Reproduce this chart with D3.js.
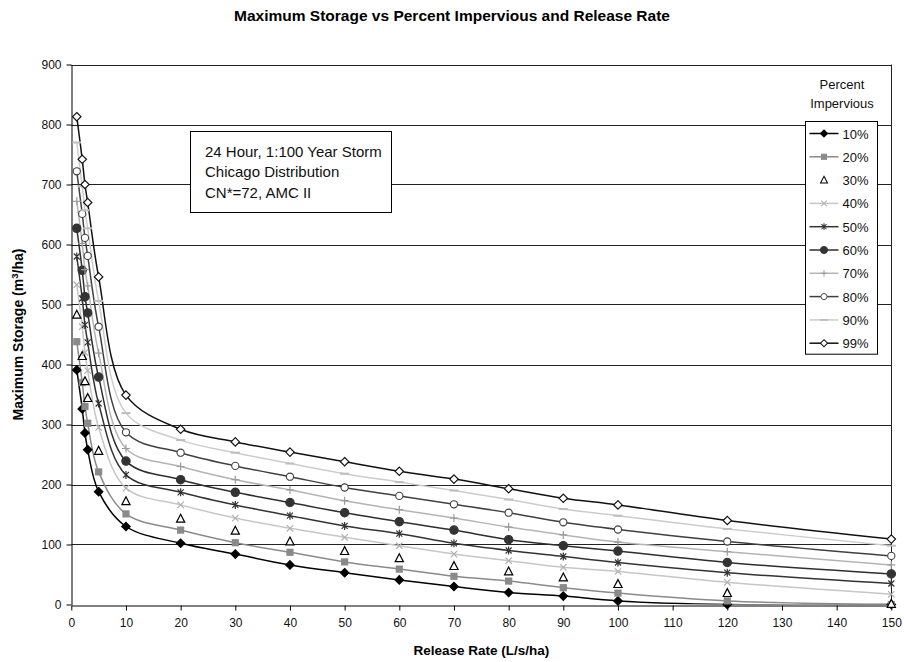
<!DOCTYPE html>
<html>
<head>
<meta charset="utf-8">
<script src="https://cdn.jsdelivr.net/npm/d3@7"></script>
<style>
  html, body { margin: 0; padding: 0; background: #fff; }
  svg { display: block; font-family: Arial, "Liberation Sans", sans-serif; }
</style>
</head>
<body>
<svg id="chart" width="904" height="662"></svg>
<script>
// Release rate (L/s/ha) at which each storage value was computed
const releaseRate = [1, 2, 2.5, 3, 5, 10, 20, 30, 40, 50, 60, 70, 80, 90, 100, 120, 150];

// Maximum storage (m3/ha) for each percent impervious
const imp10 = [391, 326, 286, 258, 188, 130, 102, 84, 66, 53, 41, 30, 20, 14, 6, 0, 0];
const imp20 = [438, 370, 330, 302, 221, 151, 124, 103, 87, 71, 59, 47, 39, 28, 19, 6, 0];
const imp30 = [483, 414, 372, 344, 256, 172, 143, 123, 105, 89, 77, 64, 55, 45, 34, 19, 1];
const imp40 = [533, 463, 420, 390, 295, 194, 166, 144, 127, 112, 98, 84, 73, 62, 55, 37, 17];
const imp50 = [580, 510, 466, 437, 335, 216, 187, 166, 148, 131, 118, 102, 90, 80, 70, 53, 35];
const imp60 = [627, 557, 513, 486, 379, 239, 208, 187, 170, 153, 138, 124, 108, 98, 89, 70, 51];
const imp70 = [672, 602, 558, 531, 419, 260, 230, 208, 191, 173, 158, 144, 129, 116, 104, 88, 66];
const imp80 = [722, 651, 611, 581, 463, 287, 253, 231, 213, 195, 181, 167, 153, 137, 125, 105, 81];
const imp90 = [770, 697, 657, 627, 506, 319, 274, 253, 235, 218, 204, 190, 175, 159, 148, 126, 98];
const imp99 = [813, 742, 700, 670, 546, 349, 292, 271, 254, 238, 222, 209, 193, 177, 166, 140, 109];

const seriesLabels = ["10%", "20%", "30%", "40%", "50%", "60%", "70%", "80%", "90%", "99%"];
const seriesValues = [imp10, imp20, imp30, imp40, imp50, imp60, imp70, imp80, imp90, imp99];

const xTickValues = [0, 10, 20, 30, 40, 50, 60, 70, 80, 90, 100, 110, 120, 130, 140, 150];
const yTickValues = [0, 100, 200, 300, 400, 500, 600, 700, 800, 900];

const noteLines = ["24 Hour, 1:100 Year Storm", "Chicago Distribution", "CN*=72, AMC II"];

// Drawing style per series: line colour (null = markers only) and marker look
const styles = [
  { line: "#000000", marker: "diamond",  fill: "#000000", stroke: "#000000" },
  { line: "#8a8a8a", marker: "square",   fill: "#8a8a8a", stroke: "none" },
  { line: null,      marker: "triangle", fill: "#ffffff", stroke: "#000000" },
  { line: "#c6c6c6", marker: "times",    fill: "none",    stroke: "#b0b0b0" },
  { line: "#333333", marker: "asterisk", fill: "none",    stroke: "#333333" },
  { line: "#2e2e2e", marker: "circle",   fill: "#333333", stroke: "#333333" },
  { line: "#b4b4b4", marker: "plus",     fill: "none",    stroke: "#9a9a9a" },
  { line: "#404040", marker: "ocircle",  fill: "#ffffff", stroke: "#404040" },
  { line: "#cccccc", marker: "dash",     fill: "none",    stroke: "#bdbdbd" },
  { line: "#111111", marker: "odiamond", fill: "#ffffff", stroke: "#111111" }
];

const series = seriesLabels.map((name, i) => ({
  name,
  style: styles[i],
  points: releaseRate.map((r, j) => ({ x: r, y: seriesValues[i][j] }))
}));

const svg = d3.select("#chart");
const plot = { left: 71.3, right: 891.3, top: 64.5, bottom: 604.5 };

const x = d3.scaleLinear().domain([0, 150]).range([plot.left, plot.right]);
const y = d3.scaleLinear().domain([0, 900]).range([plot.bottom, plot.top]);

// Title
svg.append("text")
  .attr("x", 452).attr("y", 21)
  .attr("text-anchor", "middle")
  .attr("font-size", 15.5).attr("font-weight", "bold")
  .text("Maximum Storage vs Percent Impervious and Release Rate");

// Horizontal gridlines
svg.append("g")
  .selectAll("line")
  .data(yTickValues.filter(v => v > 0))
  .join("line")
  .attr("x1", plot.left).attr("x2", plot.right)
  .attr("y1", d => Math.round(y(d)) + 0.5).attr("y2", d => Math.round(y(d)) + 0.5)
  .attr("stroke", "#222").attr("stroke-width", 1);

// Right border of the plot area
svg.append("line")
  .attr("x1", Math.round(plot.right) + 0.5).attr("x2", Math.round(plot.right) + 0.5)
  .attr("y1", y(900)).attr("y2", y(0))
  .attr("stroke", "#222");

// Axes
const xAxis = d3.axisBottom(x).tickValues(xTickValues).tickSize(5).tickPadding(8).tickSizeOuter(0);
const yAxis = d3.axisLeft(y).tickValues(yTickValues).tickSize(5).tickPadding(5).tickSizeOuter(0);

const gx = svg.append("g")
  .attr("transform", `translate(0,${Math.round(plot.bottom) + 0.5})`)
  .call(xAxis);
const gy = svg.append("g")
  .attr("transform", `translate(${Math.round(plot.left) + 0.5},0)`)
  .call(yAxis);

[gx, gy].forEach(g => {
  g.select(".domain").attr("stroke", "#000");
  g.selectAll(".tick line").attr("stroke", "#000");
  g.selectAll(".tick text")
    .attr("font-size", 12)
    .attr("font-family", "Arial, 'Liberation Sans', sans-serif")
    .attr("fill", "#111");
});

// Axis titles
svg.append("text")
  .attr("x", (plot.left + plot.right) / 2).attr("y", 655)
  .attr("text-anchor", "middle")
  .attr("font-size", 13.5).attr("font-weight", "bold")
  .text("Release Rate (L/s/ha)");

const yTitle = svg.append("text")
  .attr("transform", `translate(23,${(plot.top + plot.bottom) / 2}) rotate(-90)`)
  .attr("text-anchor", "middle")
  .attr("font-size", 14).attr("font-weight", "bold");
yTitle.append("tspan").text("Maximum Storage (m");
yTitle.append("tspan").attr("font-size", 9.5).attr("dy", -5).text("3");
yTitle.append("tspan").attr("dy", 5).text("/ha)");

// Marker shapes
function markerPath(type) {
  switch (type) {
    case "diamond":
    case "odiamond": return "M0,-4.2L4.2,0L0,4.2L-4.2,0Z";
    case "square": return "M-3.6,-3.6H3.6V3.6H-3.6Z";
    case "triangle": return "M0,-4.5L4.1,3.4H-4.1Z";
    case "times": return "M-3.2,-3.2L3.2,3.2M-3.2,3.2L3.2,-3.2";
    case "asterisk": return "M-3,-3L3,3M-3,3L3,-3M0,-4V4";
    case "plus": return "M-4,0H4M0,-4V4";
    case "dash": return "M-4.5,0H4.5";
    default: return null;
  }
}

function drawMarker(g, style) {
  if (style.marker === "circle" || style.marker === "ocircle") {
    g.append("circle")
      .attr("r", style.marker === "circle" ? 4.2 : 3.6)
      .attr("fill", style.fill).attr("stroke", style.stroke).attr("stroke-width", 1.1);
  } else {
    const open = ["times", "asterisk", "plus", "dash"].includes(style.marker);
    g.append("path")
      .attr("d", markerPath(style.marker))
      .attr("fill", open ? "none" : style.fill)
      .attr("stroke", style.stroke)
      .attr("stroke-width", style.marker === "dash" ? 2 : (style.marker === "square" ? 0 : 1.2));
  }
}

// Clip lines to the plot area
svg.append("clipPath").attr("id", "plot-clip")
  .append("rect")
  .attr("x", plot.left).attr("y", plot.top)
  .attr("width", plot.right - plot.left).attr("height", plot.bottom - plot.top);

const line = d3.line()
  .x(d => x(d.x)).y(d => y(d.y))
  .curve(d3.curveCatmullRom.alpha(0.5));

const linesG = svg.append("g").attr("clip-path", "url(#plot-clip)");
series.forEach(s => {
  if (!s.style.line) return;
  linesG.append("path")
    .datum(s.points)
    .attr("d", line)
    .attr("fill", "none")
    .attr("stroke", s.style.line)
    .attr("stroke-width", 1.5);
});

const marksG = svg.append("g");
series.forEach(s => {
  s.points.forEach(p => {
    const g = marksG.append("g").attr("transform", `translate(${x(p.x)},${y(p.y)})`);
    drawMarker(g, s.style);
  });
});

// Storm description box
const note = svg.append("g");
const noteRect = note.append("rect")
  .attr("x", 190.5).attr("y", 131.5).attr("height", 81)
  .attr("fill", "#fff").attr("stroke", "#000");
const noteText = note.selectAll("text")
  .data(noteLines)
  .join("text")
  .attr("x", 205).attr("y", (d, i) => 156.5 + i * 20.5)
  .attr("font-size", 15).attr("fill", "#111")
  .text(d => d);
let noteW = 0;
noteText.each(function () { noteW = Math.max(noteW, this.getComputedTextLength()); });
noteRect.attr("width", Math.round(noteW + 24));

// Legend
const legend = { left: 805.5, top: 121.5, right: 877.5, row: 23.3, first: 133.5 };
svg.append("text").attr("x", 842).attr("y", 89)
  .attr("text-anchor", "middle").attr("font-size", 13).attr("fill", "#111").text("Percent");
svg.append("text").attr("x", 842).attr("y", 108)
  .attr("text-anchor", "middle").attr("font-size", 13).attr("fill", "#111").text("Impervious");

svg.append("rect")
  .attr("x", legend.left).attr("y", legend.top)
  .attr("width", legend.right - legend.left)
  .attr("height", legend.first + legend.row * (series.length - 1) + 11 - legend.top)
  .attr("fill", "#fff").attr("stroke", "#000");

series.forEach((s, i) => {
  const cy = legend.first + i * legend.row;
  const g = svg.append("g");
  if (s.style.line) {
    g.append("line")
      .attr("x1", legend.left + 4).attr("x2", legend.left + 33)
      .attr("y1", cy).attr("y2", cy)
      .attr("stroke", s.style.line).attr("stroke-width", 1.5);
  }
  const m = g.append("g").attr("transform", `translate(${legend.left + 18.5},${cy}) scale(0.85)`);
  drawMarker(m, s.style);
  g.append("text")
    .attr("x", legend.left + 37).attr("y", cy + 5)
    .attr("font-size", 13).attr("fill", "#111")
    .text(s.name);
});
</script>
</body>
</html>
